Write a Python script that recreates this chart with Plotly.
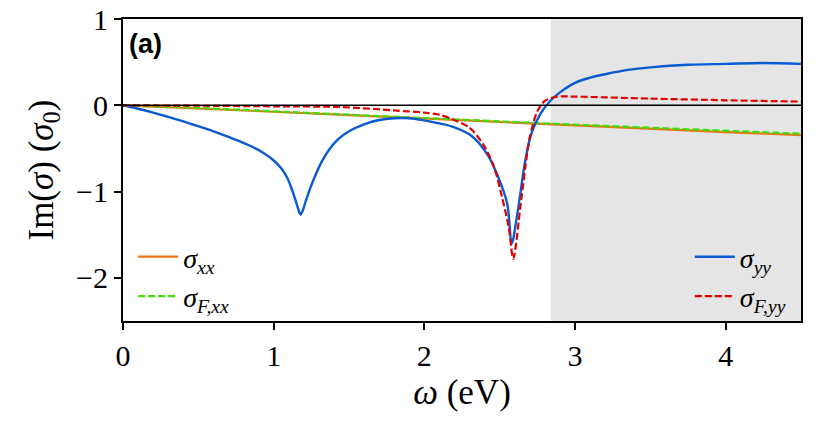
import plotly.graph_objects as go

# ---- data ----
omega_xx = [0.0, 0.5, 1.0, 1.5, 2.0, 2.5, 3.0, 3.5, 4.0, 4.5]
sigma_xx = [0.0, -0.035, -0.075, -0.115, -0.155, -0.195, -0.235, -0.27, -0.31, -0.345]
sigma_F_xx = [0.0, -0.03, -0.07, -0.11, -0.15, -0.19, -0.225, -0.26, -0.295, -0.33]

omega_yy = [0.0, 0.1, 0.2, 0.3, 0.425, 0.55, 0.646, 0.75, 0.85, 0.93, 1.0, 1.05,
            1.09, 1.12, 1.145, 1.163, 1.178, 1.193, 1.215, 1.243, 1.28, 1.32, 1.37, 1.43,
            1.5, 1.6, 1.7, 1.8, 1.9, 2.0, 2.1, 2.2, 2.31, 2.415, 2.49, 2.55, 2.58, 2.61,
            2.64, 2.67, 2.71, 2.77, 2.835, 2.9, 3.0, 3.1, 3.2, 3.35, 3.5, 3.75, 4.0, 4.25, 4.5]
sigma_yy = [0.0, -0.04, -0.085, -0.135, -0.2, -0.27, -0.33, -0.40, -0.475, -0.55, -0.64, -0.73,
            -0.84, -0.97, -1.1, -1.2, -1.265, -1.22, -1.1, -0.96, -0.80, -0.65, -0.51, -0.39,
            -0.30, -0.22, -0.17, -0.15, -0.15, -0.175, -0.21, -0.255, -0.35, -0.56, -0.83,
            -1.14, -1.60, -1.34, -0.99, -0.64, -0.33, -0.10, 0.05, 0.15, 0.26, 0.32, 0.36,
            0.41, 0.44, 0.47, 0.48, 0.49, 0.48]

omega_Fyy = [0.0, 0.5, 1.0, 1.44, 1.8, 2.0, 2.1, 2.17, 2.3, 2.39, 2.46, 2.515, 2.56, 2.59,
             2.64, 2.67, 2.70, 2.75, 2.80, 2.88, 3.0, 3.5, 4.0, 4.5]
sigma_F_yy = [0.0, -0.005, -0.012, -0.02, -0.06, -0.085, -0.11, -0.15, -0.26, -0.45, -0.70,
              -1.06, -1.41, -1.78, -1.14, -0.72, -0.37, -0.07, 0.05, 0.10, 0.10, 0.078, 0.058, 0.043]

shade_start = 2.84
x_range = [0, 4.5]
y_range = [-2.5, 1]
xticks = [0, 1, 2, 3, 4]
yticks = [-2, -1, 0, 1]

SERIF = "Liberation Serif"

fig = go.Figure()

fig.add_trace(go.Scatter(x=omega_xx, y=sigma_xx, mode="lines", name="<i>σ</i><sub><i>xx</i></sub>",
                         line=dict(color="#ec7414", width=2.2), legend="legend"))
fig.add_trace(go.Scatter(x=omega_xx, y=sigma_F_xx, mode="lines", name="<i>σ</i><sub><i>F,xx</i></sub>",
                         line=dict(color="#3ede0a", width=2.2, dash="7px,3px"), legend="legend"))
fig.add_trace(go.Scatter(x=omega_yy, y=sigma_yy, mode="lines", name="<i>σ</i><sub><i>yy</i></sub>",
                         line=dict(color="#0a5ad2", width=2.4, shape="spline", smoothing=1.0),
                         legend="legend2"))
fig.add_trace(go.Scatter(x=omega_Fyy, y=sigma_F_yy, mode="lines", name="<i>σ</i><sub><i>F,yy</i></sub>",
                         line=dict(color="#e00000", width=2.2, dash="7px,3px", shape="spline", smoothing=0.8),
                         legend="legend2"))

fig.add_shape(type="rect", xref="x", yref="paper", x0=shade_start, x1=x_range[1], y0=0, y1=1,
              fillcolor="#e5e5e5", line=dict(width=0), layer="below")
fig.add_shape(type="line", xref="paper", yref="y", x0=0, x1=1, y0=0, y1=0,
              line=dict(color="black", width=1.5), layer="above")

fig.add_annotation(text="<b>(a)</b>", xref="paper", yref="paper", x=0.006, y=0.975,
                   xanchor="left", yanchor="top", showarrow=False,
                   font=dict(family="Liberation Sans", size=27, color="black"))

legend_common = dict(bgcolor="rgba(0,0,0,0)", font=dict(family=SERIF, size=28, color="black"),
                     itemwidth=40, tracegroupgap=0)
fig.update_layout(
    width=818, height=432,
    margin=dict(l=123, r=17, t=19, b=111, autoexpand=False),
    plot_bgcolor="white", paper_bgcolor="white",
    font=dict(family=SERIF, size=29, color="black"),
    legend=dict(x=0.015, y=0.0, xanchor="left", yanchor="bottom", **legend_common),
    legend2=dict(x=0.985, y=0.0, xanchor="right", yanchor="bottom", **legend_common),
    xaxis=dict(range=x_range, tickvals=xticks, showgrid=False, zeroline=False,
               showline=True, linecolor="black", linewidth=2, mirror=True, automargin=False,
               ticks="outside", ticklen=7, tickwidth=1.5, tickcolor="black",
               title=dict(text="<i>ω</i> (eV)", standoff=8), tickfont=dict(size=30)),
    yaxis=dict(range=y_range, tickvals=yticks, showgrid=False, zeroline=False,
               showline=True, linecolor="black", linewidth=2, mirror=True, automargin=False,
               ticks="outside", ticklen=7, tickwidth=1.5, tickcolor="black",
               title=dict(text="Im(<i>σ</i>) (<i>σ</i><sub>0</sub>)", standoff=12),
               tickfont=dict(size=30)),
)

fig.write_html("out.html")
